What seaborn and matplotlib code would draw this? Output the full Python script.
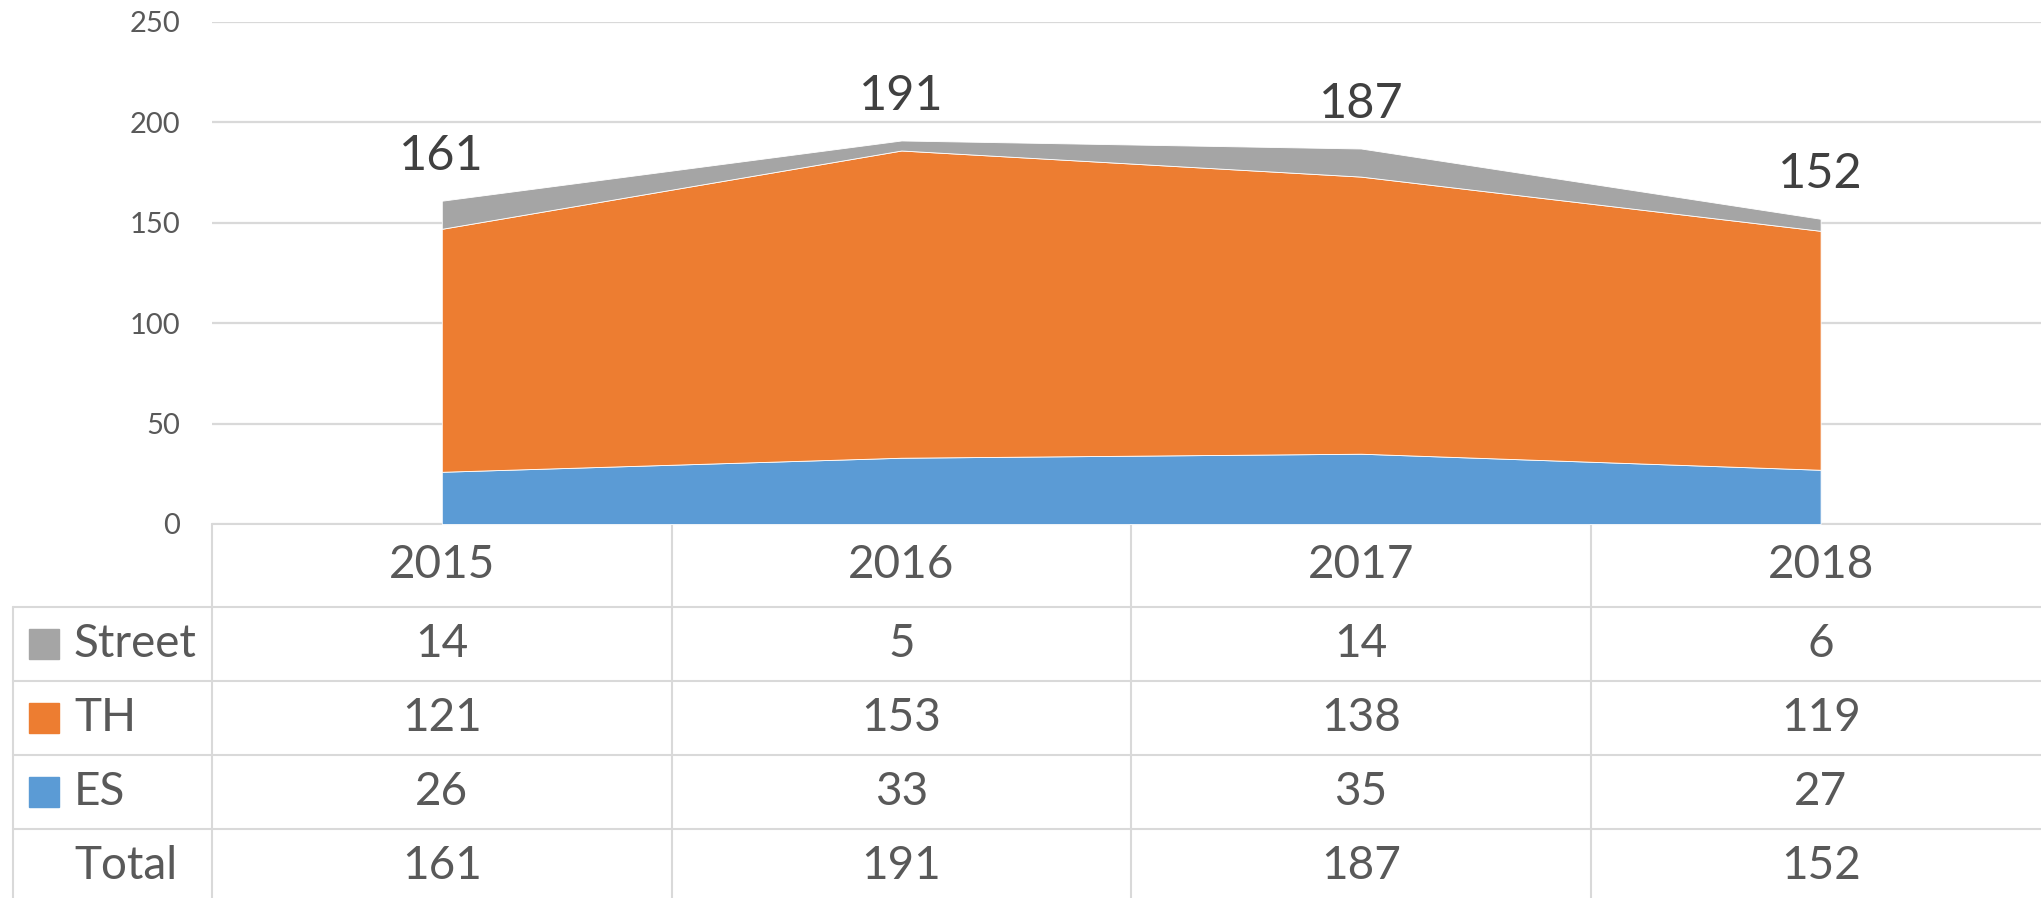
import numpy as np
import pandas as pd
import seaborn as sns
import matplotlib as mpl
import matplotlib.pyplot as plt

# -------------------------
# Data
# -------------------------
years = ['2015', '2016', '2017', '2018']
es = [26, 33, 35, 27]
th = [121, 153, 138, 119]
street = [14, 5, 14, 6]
totals = [161, 191, 187, 152]

series_names = ['Street', 'TH', 'ES']
yticks = [0, 50, 100, 150, 200, 250]

# -------------------------
# Configuration
# -------------------------
sns.set_theme(style="white")
plt.rcParams['font.family'] = ['Lato', 'DejaVu Sans']

c_es, c_th, c_street = '#5B9BD5', '#ED7D31', '#A5A5A5'
grid_c = '#D9D9D9'
txt_c = '#595959'

W, H = 2041, 898
left_px, top_px, zero_px = 212, 22, 524
col_w = 459.6

f = plt.figure(figsize=(W / 100, H / 100), dpi=100)

# Main axes (area chart)
ax = f.add_axes([left_px / W, (H - zero_px) / H,
                 (W - left_px) / W, (zero_px - top_px) / H])

df = pd.DataFrame({'year': years, 'ES': es, 'TH': th, 'Street': street})
x = np.arange(len(years))
ax.stackplot(x, df['ES'], df['TH'], df['Street'],
             colors=[c_es, c_th, c_street],
             edgecolor='white', linewidth=0.6, zorder=2)

ax.set_xlim(-0.5, -0.5 + (W - left_px) / col_w)
ax.set_ylim(0, 250)
ax.set_yticks(yticks)
ax.set_xticks([])
ax.yaxis.grid(True, color=grid_c, linewidth=1.6)
ax.set_axisbelow(True)
ax.tick_params(axis='y', length=0, pad=23, labelsize=21, labelcolor=txt_c)
sns.despine(ax=ax, left=True, bottom=True)

# Data labels (totals)
for i, t in enumerate(totals):
    ax.annotate(str(t), (x[i], t), xytext=(0, 22), textcoords='offset points',
                ha='center', va='baseline', fontsize=35, color='#404040')

# -------------------------
# Data table
# -------------------------
tb = f.add_axes([0, 0, 1, 1], zorder=-1)
tb.set_xlim(0, W)
tb.set_ylim(H, 0)
tb.axis('off')

row_edges = [524, 607, 681, 755, 829, 903]
col_edges = [left_px + i * col_w for i in range(len(years))]
lw = 1.5

# horizontal lines
tb.plot([left_px, W], [row_edges[0]] * 2, color=grid_c, lw=lw)
for yy in row_edges[1:-1]:
    tb.plot([13, W], [yy, yy], color=grid_c, lw=lw)
# vertical lines
tb.plot([13, 13], [row_edges[1], H], color=grid_c, lw=lw)
for xx in col_edges:
    tb.plot([xx, xx], [row_edges[0], H], color=grid_c, lw=lw)

centers = [left_px + (i + 0.5) * col_w for i in range(len(years))]
row_c = [(row_edges[k] + row_edges[k + 1]) / 2 for k in range(5)]

for i, yr in enumerate(years):
    tb.text(centers[i], row_c[0], yr, ha='center', va='center',
            fontsize=33, color=txt_c)

rows = [('Street', street, c_street), ('TH', th, c_th),
        ('ES', es, c_es), ('Total', totals, None)]
for k, (name, vals, col) in enumerate(rows):
    yc = row_c[k + 1]
    if col is not None:
        tb.add_patch(plt.Rectangle((29, yc - 15), 30, 30, color=col))
    tb.text(74, yc, name, ha='left', va='center', fontsize=33, color=txt_c)
    for i, v in enumerate(vals):
        tb.text(centers[i], yc, str(v), ha='center', va='center',
                fontsize=33, color=txt_c)

f.savefig('out.png', dpi=100)
